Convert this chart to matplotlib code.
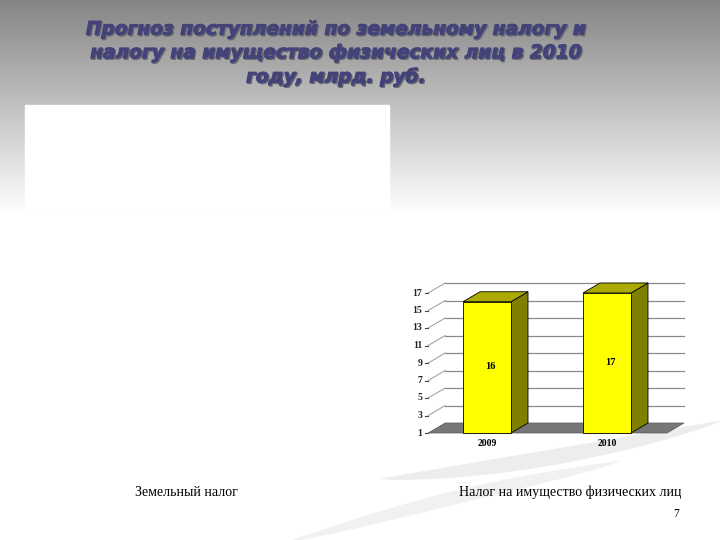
import numpy as np
import matplotlib
matplotlib.use("Agg")
import matplotlib.pyplot as plt
import matplotlib.patheffects as pe
from matplotlib.patches import Polygon, Rectangle

# data
years = ["2009", "2010"]
values = [16, 17]
yticks = [1, 3, 5, 7, 9, 11, 13, 15, 17]
title = "Прогноз поступлений по земельному налогу и\nналогу на имущество физических лиц в 2010\nгоду, млрд. руб."
left_label = "Земельный налог"
right_label = "Налог на имущество физических лиц"
page_no = "7"

fig = plt.figure(figsize=(7.2, 5.4), dpi=100)

# background (pixel coords)
bg = fig.add_axes([0, 0, 1, 1])
bg.set_xlim(0, 720)
bg.set_ylim(540, 0)
bg.axis("off")
rows = np.arange(540)
grad = np.clip(0.52 + 0.48 * rows / 215, 0, 1)[:, None]
bg.imshow(np.repeat(grad, 2, axis=1), cmap="gray", vmin=0, vmax=1,
          extent=[0, 720, 540, 0], aspect="auto", zorder=0)

# faint swoosh bands
t = np.linspace(0, 1, 100)
sx = 380 + 340 * t
sy = 478 - 58 * t
bg.fill_between(sx, sy, sy + 16 * np.sin(np.pi * t) ** 0.7, color="#ededed", zorder=0.5, lw=0)
sx2 = 290 + 330 * t
sy2 = 540 - 80 * t - 10 * np.sin(np.pi * t)
bg.fill_between(sx2, sy2, sy2 + 14 * np.sin(np.pi * t) ** 0.7, color="#f1f1f1", zorder=0.5, lw=0)

bg.add_patch(Rectangle((25, 105), 364, 105, color="white", zorder=1))

bg.text(337.2, 54.2, title, ha="center", va="center", fontsize=13.4,
        fontweight="bold", fontstyle="italic", family="DejaVu Sans",
        color="#6a6a70", linespacing=1.3, zorder=3,
        path_effects=[pe.withStroke(linewidth=0.8, foreground="#6a6a70")])
bg.text(336, 53, title, ha="center", va="center", fontsize=13.4,
        fontweight="bold", fontstyle="italic", family="DejaVu Sans",
        color="#43437a", linespacing=1.3, zorder=3,
        path_effects=[pe.withStroke(linewidth=0.8, foreground="#43437a")])

bg.text(186, 492, left_label, ha="center", va="center", fontsize=10,
        family="Liberation Serif", color="black")
bg.text(570, 492, right_label, ha="center", va="center", fontsize=10,
        family="Liberation Serif", color="black")
bg.text(676, 514, page_no, ha="center", va="center", fontsize=8.5,
        family="Liberation Serif", color="black")

# chart axes: x in category units (120 px), y in value units (8.75 px)
ax = fig.add_axes([400 / 720, (540 - 450) / 540, 300 / 720, 180 / 540])
ax.set_xlim(-0.725, 1.775)
ax.set_ylim(1 - 17 / 8.75, 1 + 163 / 8.75)
ax.axis("off")

ddx = 17 / 120
ddy = 10 / 8.75
x0, x1 = -0.49, 1.5
base = 1
w = 0.4

# floor
ax.add_patch(Polygon([(x0, base), (x1, base), (x1 + ddx, base + ddy), (x0 + ddx, base + ddy)],
                     closed=True, facecolor="#777777", edgecolor="#555555", lw=0.5, zorder=1))
# grid on back wall and side wall
for v in yticks[1:]:
    ax.plot([x0 + ddx, x1 + ddx], [v + ddy, v + ddy], color="#8a8a8a", lw=0.9, zorder=0.5)
    ax.plot([x0, x0 + ddx], [v, v + ddy], color="#9a9a9a", lw=0.7, zorder=0.5)
for v in yticks:
    ax.plot([x0 - 0.03, x0], [v, v], color="#444444", lw=0.8, zorder=2)
    ax.text(x0 - 0.05, v, str(v), ha="right", va="center", fontsize=7,
            family="Liberation Serif", fontweight="bold", color="#222222")

# bars
for i, (yr, v) in enumerate(zip(years, values)):
    l, r = i - w / 2, i + w / 2
    ax.add_patch(Polygon([(r, base), (r + ddx, base + ddy), (r + ddx, v + ddy), (r, v)],
                         closed=True, facecolor="#7f7f00", edgecolor="black", lw=0.6, zorder=3))
    ax.add_patch(Polygon([(l, v), (r, v), (r + ddx, v + ddy), (l + ddx, v + ddy)],
                         closed=True, facecolor="#aaaa00", edgecolor="black", lw=0.6, zorder=3))
    ax.add_patch(Rectangle((l, base), w, v - base, facecolor="#ffff00",
                           edgecolor="black", lw=0.6, zorder=4))
    ax.text(i + 0.03, (base + v) / 2 + 0.1, str(v), ha="center", va="center",
            fontsize=7.5, family="Liberation Serif", fontweight="bold", zorder=5)
    ax.text(i, base - 1.15, yr, ha="center", va="center", fontsize=7,
            family="Liberation Serif", fontweight="bold", zorder=5)

fig.savefig("out.png", dpi=100)
